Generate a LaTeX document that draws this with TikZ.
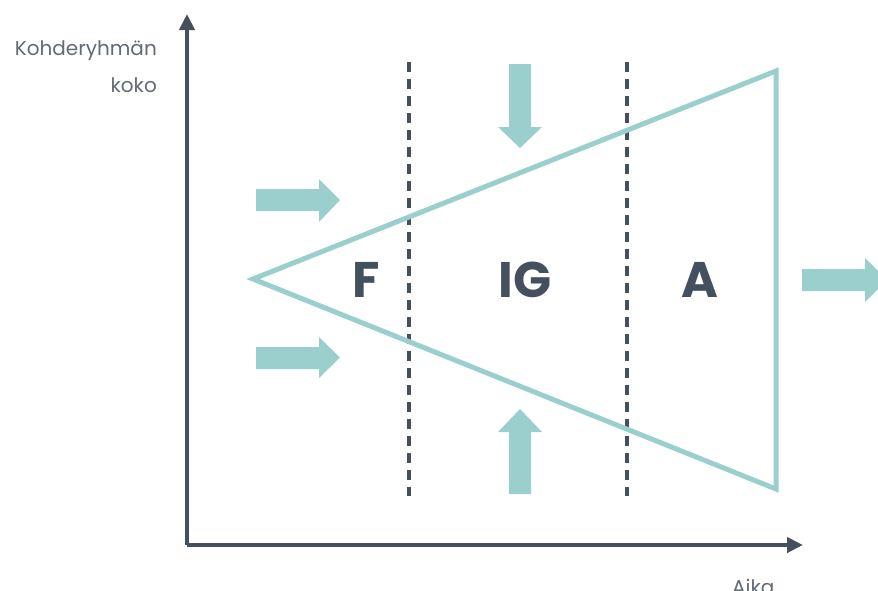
\documentclass[tikz,border=0pt]{standalone}
\usepackage{fontspec}
\setmainfont{Poppins}
\usetikzlibrary{arrows.meta}
\definecolor{teal1}{HTML}{9BCFCD}
\definecolor{dark1}{HTML}{45505E}
\tikzset{
  axis/.style={draw=dark1, line width=4pt, -{Triangle[length=16pt,width=15pt]}},
  divider/.style={draw=dark1, line width=3.2pt, dash pattern=on 10pt off 7pt},
  funnel/.style={draw=teal1, line width=5pt, line join=miter},
  blockarrow/.style={fill=teal1, draw=none},
  phase/.style={text=dark1, font=\fontsize{50}{56}\selectfont\bfseries, inner sep=0pt},
  axlabel/.style={text=dark1!85, font=\fontsize{20}{24}\selectfont, inner sep=0pt}
}
\begin{document}
\begin{tikzpicture}[x=1pt,y=-1pt]
\useasboundingbox (0,0) rectangle (878,590);
% axes
\coordinate (O) at (187,545);
\coordinate (Ytop) at (187,14);
\coordinate (Xend) at (803,545);
\draw[axis] (O) -- (Ytop);
\draw[axis] (O) -- (Xend);
% dividers
\coordinate (d1t) at (409,62);
\coordinate (d1b) at (409,496);
\coordinate (d2t) at (627,62);
\coordinate (d2b) at (627,496);
\draw[divider] (d1t) -- (d1b);
\draw[divider] (d2t) -- (d2b);
% funnel
\coordinate (tip) at (253,279);
\coordinate (ur) at (776,71);
\coordinate (lr) at (776,489);
\draw[funnel] (tip) -- (ur) -- (lr) -- cycle;
% block arrows
\fill[blockarrow] (256,189) -- (319,189) -- (319,179) -- (340,200) -- (319,222) -- (319,211) -- (256,211) -- cycle;
\fill[blockarrow] (256,347) -- (319,347) -- (319,337) -- (340,357.5) -- (319,378) -- (319,369) -- (256,369) -- cycle;
\fill[blockarrow] (802,269) -- (865,269) -- (865,258) -- (887,280) -- (865,302) -- (865,291) -- (802,291) -- cycle;
\fill[blockarrow] (509,64) -- (531,64) -- (531,127) -- (542,127) -- (520,148) -- (498,127) -- (509,127) -- cycle;
\fill[blockarrow] (509,494) -- (531,494) -- (531,432) -- (542,432) -- (520,409) -- (498,432) -- (509,432) -- cycle;
% phase labels
\node[phase] (F) at (366,280) {F};
\node[phase] (IG) at (525,280) {IG};
\node[phase] (A) at (700,280) {A};
% axis labels
\node[axlabel, anchor=base east] (yl1) at (157,55) {Kohderyhmän};
\node[axlabel, anchor=base east] (yl2) at (157,92) {koko};
\node[axlabel, anchor=base west] (xl) at (732,594) {Aika};
\end{tikzpicture}
\end{document}
